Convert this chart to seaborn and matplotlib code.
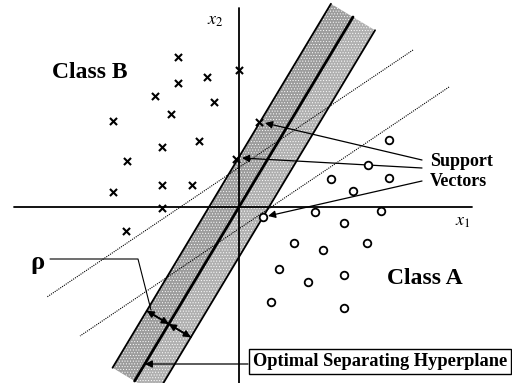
import numpy as np
import pandas as pd
import seaborn as sns
import matplotlib.pyplot as plt

# Class B (crosses) in feature space (x1, x2); last two are support vectors
class_b_x1 = [-61, -32, 0, -61, -84, -25, -68, -126, -40, -77, -112, -77, -47, -126, -77, -113, 20, -3]
class_b_x2 = [150, 130, 137, 124, 111, 105, 93, 86, 66, 60, 46, 22, 22, 15, -1, -24, 85, 48]
# Class A (circles); last one is a support vector
class_a_x1 = [150, 129, 92, 150, 114, 76, 142, 105, 55, 84, 128, 40, 69, 105, 32, 105, 24]
class_a_x2 = [67, 42, 28, 29, 16, -5, -4, -16, -36, -43, -36, -62, -75, -68, -95, -101, -10]

# optimal hyperplane x1 = slope * x2, margin half width (along x1), x2 extent
hyper_slope = 0.6
margin_half = 30
hyper_x2_range = [-174, 190]

# other (non-optimal) separating lines: (x1 start, x1 end), (x2 start, x2 end)
alt1_x1, alt1_x2 = [174, -192], [157, -90]
alt2_x1, alt2_x2 = [210, -159], [120, -129]

# support vector pointers: label anchor -> target
sv_from = [(183, 47), (183, 39), (183, 26)]
sv_to = [(26, 84), (3, 49), (29, -9)]

sns.set_style("white")
plt.rcParams["font.family"] = ["Liberation Serif", "DejaVu Serif"]
plt.rcParams["mathtext.fontset"] = "stix"
plt.rcParams["text.color"] = "black"
plt.rcParams["hatch.color"] = "#5a5a5a"
plt.rcParams["hatch.linewidth"] = 0.4

fig = plt.figure(figsize=(5.12, 3.83), dpi=100)
ax = fig.add_axes([0, 0, 1, 1])
ax.set_xlim(-239, 273)
ax.set_ylim(-176, 207)
ax.axis("off")

# band geometry
v = np.array(hyper_x2_range, dtype=float)
mid = np.column_stack([hyper_slope * v, v])
perp = np.array([1.0, -hyper_slope]) / np.hypot(1.0, hyper_slope)
off = perp * margin_half * perp[0]
left = mid - off
right = mid + off

ax.fill([left[0, 0], mid[0, 0], mid[1, 0], left[1, 0]],
        [left[0, 1], mid[0, 1], mid[1, 1], left[1, 1]],
        facecolor="#9c9c9c", hatch="......", linewidth=0, zorder=1)
ax.fill([mid[0, 0], right[0, 0], right[1, 0], mid[1, 0]],
        [mid[0, 1], right[0, 1], right[1, 1], mid[1, 1]],
        facecolor="#b0b0b0", hatch="......", linewidth=0, zorder=1)
ax.plot(left[:, 0], left[:, 1], color="k", lw=1.3, zorder=2)
ax.plot(right[:, 0], right[:, 1], color="k", lw=1.3, zorder=2)
ax.plot(mid[:, 0], mid[:, 1], color="k", lw=2.0, zorder=2)

# alternative separating lines
ax.plot(alt1_x1, alt1_x2, color="k", lw=0.8, ls=(0, (1, 1)), zorder=2)
ax.plot(alt2_x1, alt2_x2, color="k", lw=0.8, ls=(0, (1, 1)), zorder=2)

# coordinate axes
ax.plot([-225, 233], [0, 0], color="k", lw=1.3, zorder=2)
ax.plot([0, 0], [-176, 199], color="k", lw=1.3, zorder=2)
ax.text(-24, 187, r"$x_2$", fontsize=13, ha="center", va="center")
ax.text(224, -15, r"$x_1$", fontsize=13, ha="center", va="center")

# data points
pts = pd.concat([
    pd.DataFrame({"x1": class_b_x1, "x2": class_b_x2, "cls": "B"}),
    pd.DataFrame({"x1": class_a_x1, "x2": class_a_x2, "cls": "A"}),
])
sns.scatterplot(data=pts[pts.cls == "B"], x="x1", y="x2", marker="x", s=26,
                color="k", linewidth=1.5, ax=ax, zorder=4, legend=False)
sns.scatterplot(data=pts[pts.cls == "A"], x="x1", y="x2", marker="o", s=30,
                facecolor="white", edgecolor="k", linewidth=1.3, ax=ax,
                zorder=4, legend=False)

# support vector arrows
for (x0, y0), (x1, y1) in zip(sv_from, sv_to):
    ax.annotate("", xy=(x1, y1), xytext=(x0, y0), zorder=3,
                arrowprops=dict(arrowstyle="-|>", color="k", lw=0.9,
                                mutation_scale=11, shrinkA=0, shrinkB=0))
ax.text(191, 45, "Support", fontsize=13, fontweight="bold", ha="left", va="center")
ax.text(191, 26, "Vectors", fontsize=13, fontweight="bold", ha="left", va="center")

# margin (rho) arrows
rho_v = -117
rho_mid = np.array([hyper_slope * rho_v, rho_v])
for end in (rho_mid - off, rho_mid + off):
    ax.annotate("", xy=end, xytext=rho_mid, zorder=3,
                arrowprops=dict(arrowstyle="-|>", color="k", lw=1.2,
                                mutation_scale=10, shrinkA=0, shrinkB=0))
    ax.annotate("", xy=rho_mid, xytext=end, zorder=3,
                arrowprops=dict(arrowstyle="-|>", color="k", lw=1.2,
                                mutation_scale=10, shrinkA=0, shrinkB=0))
ax.plot([-189, -101, -88], [-52, -52, -103], color="k", lw=0.8, zorder=3)
ax.text(-202, -55, "ρ", fontsize=19, fontweight="bold", ha="center", va="center")

# hyperplane label
hp_v = -157
ax.annotate("", xy=(hyper_slope * hp_v, hp_v), xytext=(9, hp_v), zorder=3,
            arrowprops=dict(arrowstyle="-|>", color="k", lw=0.9,
                            mutation_scale=11, shrinkA=0, shrinkB=0))
ax.text(14, -154.5, "Optimal Separating Hyperplane", fontsize=13.2, fontweight="bold",
        ha="left", va="center", zorder=5,
        bbox=dict(boxstyle="square,pad=0.22", facecolor="white", edgecolor="k", lw=1.0))

ax.text(-149, 135, "Class B", fontsize=17, fontweight="bold", ha="center", va="center")
ax.text(186, -71, "Class A", fontsize=17, fontweight="bold", ha="center", va="center")

fig.savefig("out.png", dpi=100)
